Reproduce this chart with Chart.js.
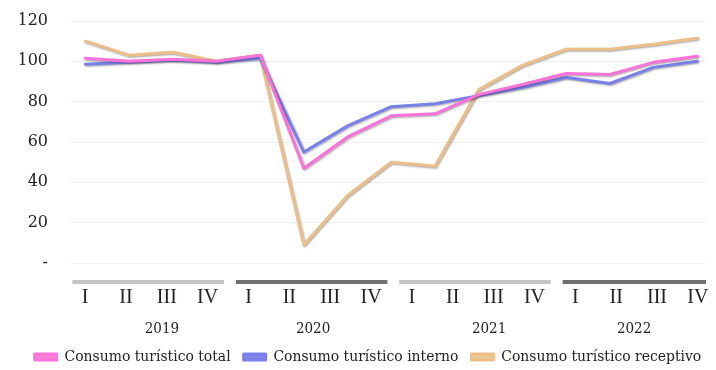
<!DOCTYPE html>
<html>
<head>
<meta charset="utf-8">
<script src="https://cdn.jsdelivr.net/npm/chart.js@4/dist/chart.umd.min.js"></script>
<style>
  html, body { margin: 0; padding: 0; background: #fff; }
  #wrap { width: 716px; height: 370px; }
</style>
</head>
<body>
<div id="wrap"><canvas id="chart"></canvas></div>
<script>
// trimestres del eje y años
const quarters = ['I','II','III','IV','I','II','III','IV','I','II','III','IV','I','II','III','IV'];
const years = ['2019','2020','2021','2022'];
const yTicks = [0, 20, 40, 60, 80, 100, 120];

// series (índice)
const consumoTotal     = [101.5, 100, 101, 100, 103, 47, 62.5, 73, 74, 83.5, 88.5, 94, 93.5, 99.5, 102.5];
const consumoInterno   = [98.5, 99.5, 100.5, 99.5, 101.5, 55, 68, 77.5, 79, 83, 87, 92, 89, 97, 100];
const consumoReceptivo = [110, 103, 104.5, 100, 103, 9, 33.5, 50, 48, 86, 98, 106, 106, 108.5, 111.5];

const FONT = "'DejaVu Serif Condensed', 'DejaVu Serif', serif";
const ctx = document.getElementById('chart');

const pts = arr => arr.map((v, i) => ({ x: i, y: v }));

// barras de grupo bajo el eje (gris claro / oscuro alternando)
const groupBars = {
  id: 'groupBars',
  afterDraw(chart) {
    const sx = chart.scales.x;
    const c = chart.ctx;
    const y = chart.chartArea.bottom + 17;
    years.forEach((yr, g) => {
      const x0 = sx.getPixelForValue(g * 4 - 0.31);
      const x1 = Math.min(sx.getPixelForValue(g * 4 + 3.4), chart.chartArea.right);
      c.save();
      c.fillStyle = g % 2 === 0 ? '#c4c4c4' : '#707070';
      c.fillRect(x0, y, x1 - x0, 4);
      c.restore();
    });
  }
};

// sombra suave en las líneas
const lineShadow = {
  id: 'lineShadow',
  beforeDatasetDraw(chart) {
    const c = chart.ctx;
    c.save();
    c.shadowColor = 'rgba(0,0,0,0.35)';
    c.shadowBlur = 2;
    c.shadowOffsetX = 1;
    c.shadowOffsetY = 1;
  },
  afterDatasetDraw(chart) { chart.ctx.restore(); }
};

const yearNudge = [0.38, 0.08, 0.39, -0.06];

new Chart(ctx, {
  type: 'line',
  data: {
    datasets: [
      { label: 'Consumo turístico total', data: pts(consumoTotal), borderColor: '#fb72da', backgroundColor: '#fd80cf', xAxisID: 'xd' },
      { label: 'Consumo turístico interno', data: pts(consumoInterno), borderColor: '#7a80ea', backgroundColor: '#7f86e4', xAxisID: 'xd' },
      { label: 'Consumo turístico receptivo', data: pts(consumoReceptivo), borderColor: '#edbf88', backgroundColor: '#e8c896', xAxisID: 'xd' }
    ]
  },
  options: {
    responsive: true,
    maintainAspectRatio: false,
    animation: false,
    layout: { padding: { top: 21, right: 0, left: 20, bottom: -4.75 } },
    elements: {
      line: { borderWidth: 3, tension: 0, borderJoinStyle: 'round', borderCapStyle: 'round' },
      point: { radius: 0, hoverRadius: 0 }
    },
    scales: {
      xd: { type: 'linear', min: -0.35, max: 14.2, display: false },
      x: {
        type: 'linear', position: 'bottom', min: -0.37, max: 15.2, weight: 0,
        afterBuildTicks: s => { s.ticks = quarters.map((_, i) => ({ value: i })); },
        afterFit: s => { s.height = 48; s.paddingLeft = 0; s.paddingRight = 0; },
        grid: { display: false, drawTicks: false },
        border: { display: false },
        ticks: {
          callback: v => quarters[v],
          autoSkip: false, maxRotation: 0,
          padding: 23,
          color: '#222',
          font: { family: "'Liberation Serif', serif", size: 20 }
        }
      },
      xy: {
        type: 'linear', position: 'bottom', min: -0.37, max: 15.2, weight: 1,
        afterBuildTicks: s => { s.ticks = years.map((_, i) => ({ value: i * 4 + 1.5 + yearNudge[i] })); },
        afterFit: s => { s.height = 25.25; s.paddingLeft = 0; s.paddingRight = 0; },
        grid: { display: false, drawTicks: false },
        border: { display: false },
        ticks: {
          callback: (v, i) => years[i],
          autoSkip: false, maxRotation: 0,
          padding: 9,
          color: '#222',
          font: { family: FONT, size: 15 }
        }
      },
      y: {
        min: 0, max: 120,
        afterBuildTicks: s => { s.ticks = yTicks.map(v => ({ value: v })); },
        afterFit: s => { s.width = 50; s.paddingTop = 10; s.paddingBottom = 10; },
        grid: { color: '#efefef', lineWidth: 1, drawTicks: false },
        border: { display: false },
        ticks: {
          callback: v => v === 0 ? '-' : v,
          padding: 22,
          color: '#222',
          font: { family: "'DejaVu Serif', serif", size: 16 }
        }
      },
      // eje vacío a la derecha, solo deja margen
      yr: {
        position: 'right', min: 0, max: 120,
        afterFit: s => { s.width = 10; s.paddingTop = 0; s.paddingBottom = 0; },
        grid: { display: false, drawTicks: false },
        border: { display: false },
        ticks: { display: false }
      }
    },
    plugins: {
      legend: {
        position: 'bottom',
        labels: {
          boxWidth: 22, boxHeight: 6, padding: 13,
          color: '#222',
          font: { family: FONT, size: 15.5 }
        }
      },
      tooltip: { enabled: false }
    }
  },
  plugins: [groupBars, lineShadow]
});
</script>
</body>
</html>
